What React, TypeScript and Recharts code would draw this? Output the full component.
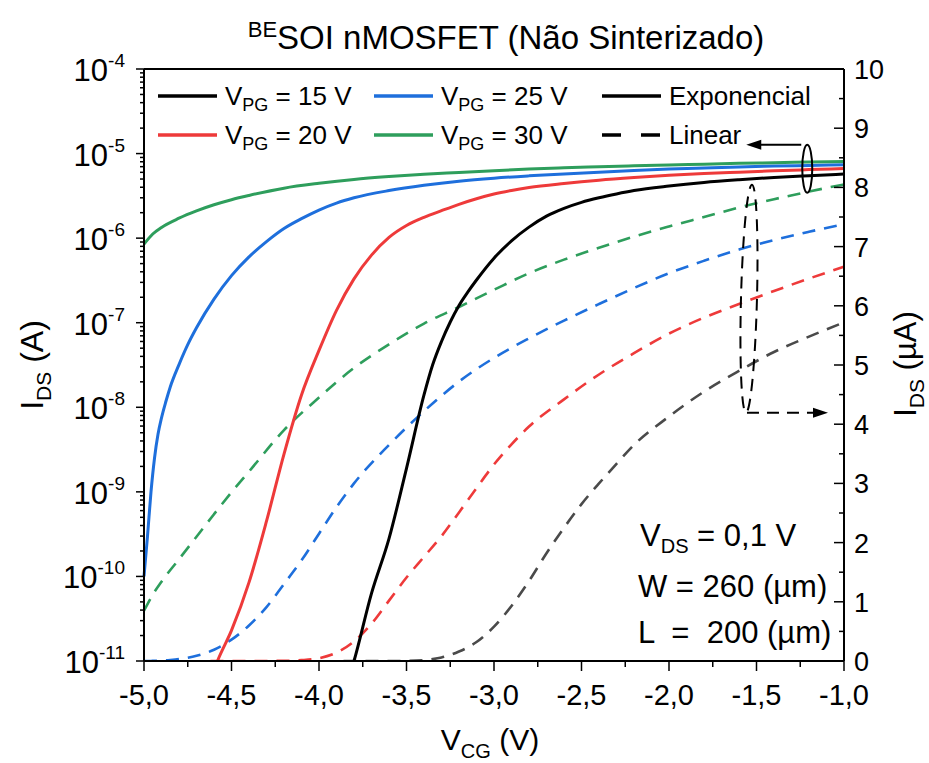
import { ComposedChart, Line, XAxis, YAxis, ReferenceLine, ReferenceDot } from 'recharts'

// I_DS (A) vs V_CG (V) for each back-gate bias V_PG
const VCG_15 = [-3.86, -3.8, -3.7, -3.6, -3.5, -3.4, -3.35, -3.3, -3.25, -3.2, -3.15, -3.1, -3.0, -2.9, -2.8, -2.7, -2.6, -2.5, -2.4, -2.3, -2.2, -2.0, -1.8, -1.6, -1.4, -1.2, -1.0]
const IDS_15 = [4e-12, 1.0e-11, 6.3e-11, 2.8e-10, 1.9e-9, 1.4e-8, 3.2e-8, 6.0e-8, 1.02e-7, 1.6e-7, 2.3e-7, 3.2e-7, 5.8e-7, 9.3e-7, 1.35e-6, 1.82e-6, 2.25e-6, 2.65e-6, 3.0e-6, 3.33e-6, 3.65e-6, 4.13e-6, 4.55e-6, 4.9e-6, 5.22e-6, 5.48e-6, 5.72e-6]

const VCG_20 = [-4.62, -4.58, -4.5, -4.4, -4.3, -4.2, -4.1, -4.0, -3.9, -3.8, -3.7, -3.6, -3.5, -3.4, -3.3, -3.2, -3.1, -3.0, -2.9, -2.8, -2.6, -2.4, -2.2, -2.0, -1.8, -1.6, -1.4, -1.2, -1.0]
const IDS_20 = [6e-12, 1.0e-11, 2.3e-11, 8.5e-11, 4.5e-10, 2.8e-9, 1.4e-8, 4.7e-8, 1.4e-7, 3.3e-7, 6.3e-7, 1.02e-6, 1.41e-6, 1.76e-6, 2.11e-6, 2.51e-6, 2.92e-6, 3.32e-6, 3.66e-6, 3.96e-6, 4.42e-6, 4.84e-6, 5.2e-6, 5.53e-6, 5.8e-6, 6.03e-6, 6.25e-6, 6.46e-6, 6.66e-6]

const VCG_25 = [-5.0, -4.98, -4.96, -4.94, -4.92, -4.9, -4.875, -4.85, -4.8, -4.75, -4.7, -4.6, -4.5, -4.4, -4.3, -4.2, -4.1, -4.0, -3.9, -3.8, -3.6, -3.4, -3.2, -3.0, -2.8, -2.6, -2.4, -2.2, -2.0, -1.8, -1.6, -1.4, -1.2, -1.0]
const IDS_25 = [1.0e-10, 3e-10, 1.0e-9, 2.5e-9, 4.8e-9, 7.5e-9, 1.17e-8, 1.74e-8, 3.2e-8, 5.5e-8, 8.7e-8, 1.9e-7, 3.6e-7, 6.0e-7, 9.1e-7, 1.3e-6, 1.7e-6, 2.15e-6, 2.6e-6, 3.0e-6, 3.65e-6, 4.22e-6, 4.72e-6, 5.12e-6, 5.45e-6, 5.75e-6, 6.03e-6, 6.3e-6, 6.55e-6, 6.76e-6, 6.95e-6, 7.11e-6, 7.25e-6, 7.38e-6]

const VCG_30 = [-5.0, -4.95, -4.9, -4.8, -4.7, -4.6, -4.5, -4.4, -4.2, -4.0, -3.8, -3.6, -3.4, -3.2, -3.0, -2.8, -2.6, -2.4, -2.2, -2.0, -1.8, -1.6, -1.4, -1.2, -1.0]
const IDS_30 = [8.5e-7, 1.12e-6, 1.34e-6, 1.72e-6, 2.1e-6, 2.48e-6, 2.85e-6, 3.2e-6, 3.9e-6, 4.45e-6, 4.95e-6, 5.35e-6, 5.7e-6, 5.98e-6, 6.27e-6, 6.55e-6, 6.78e-6, 6.98e-6, 7.17e-6, 7.34e-6, 7.5e-6, 7.66e-6, 7.8e-6, 7.93e-6, 8.05e-6]

const X_TICKS = [-5, -4.75, -4.5, -4.25, -4, -3.75, -3.5, -3.25, -3, -2.75, -2.5, -2.25, -2, -1.75, -1.5, -1.25, -1]
const LIN_TICKS = [0, 0.5, 1, 1.5, 2, 2.5, 3, 3.5, 4, 4.5, 5, 5.5, 6, 6.5, 7, 7.5, 8, 8.5, 9, 9.5, 10]
const DECADES = [-11, -10, -9, -8, -7, -6, -5, -4]

const LOG_TICKS: number[] = []
DECADES.forEach((e) => {
  LOG_TICKS.push(Math.pow(10, e))
  if (e < -4) for (let m = 2; m <= 9; m++) LOG_TICKS.push(m * Math.pow(10, e))
})

const SERIES = [
  { pg: '15', vcg: VCG_15, ids: IDS_15, color: '#000000', dash: '#4a4a4a' },
  { pg: '20', vcg: VCG_20, ids: IDS_20, color: '#ee3a3a', dash: '#ee3a3a' },
  { pg: '25', vcg: VCG_25, ids: IDS_25, color: '#1e6fdc', dash: '#1e6fdc' },
  { pg: '30', vcg: VCG_30, ids: IDS_30, color: '#2e9e5c', dash: '#2e9e5c' },
]

const FONT = '"Liberation Sans", Arial, sans-serif'
const DASH = '13 9'

function LogTick({ x, y, payload }: any) {
  const lg = Math.log10(payload.value)
  const e = Math.round(lg)
  const major = Math.abs(lg - e) < 1e-6
  return (
    <g>
      <line x1={x - (major ? 8 : 4)} y1={y} x2={x} y2={y} stroke="#000" strokeWidth={1.5} />
      {major && (
        <text x={x - 19} y={y + 12} textAnchor="end" fontSize={31} fill="#000" fontFamily={FONT}>
          10<tspan dy={-14} fontSize={19}>{e}</tspan>
        </text>
      )}
    </g>
  )
}

function LinTick({ x, y, payload }: any) {
  const major = Number.isInteger(payload.value)
  return (
    <g>
      <line x1={x - (major ? 10 : 5)} y1={y} x2={x} y2={y} stroke="#000" strokeWidth={1.5} />
      {major && (
        <text x={x + 10} y={y + 10} textAnchor="start" fontSize={27} fill="#000" fontFamily={FONT}>
          {payload.value}
        </text>
      )}
    </g>
  )
}

function VTick({ x, y, payload }: any) {
  const v = payload.value
  const major = Math.abs(v * 2 - Math.round(v * 2)) < 1e-6
  return (
    <g>
      <line x1={x} y1={y} x2={x} y2={y + (major ? 10 : 6)} stroke="#000" strokeWidth={1.5} />
      {major && (
        <text x={x} y={y + 44} textAnchor="middle" fontSize={29} fill="#000" fontFamily={FONT}>
          {v.toFixed(1).replace('.', ',')}
        </text>
      )}
    </g>
  )
}

// ellipse around the solid curves, arrow toward the log axis
function LogMarker({ cx, cy }: any) {
  return (
    <g>
      <ellipse cx={cx} cy={cy} rx={5} ry={24} fill="none" stroke="#000" strokeWidth={2} />
      <line x1={cx - 6} y1={cy - 24} x2={cx - 50} y2={cy - 24} stroke="#000" strokeWidth={2} />
      <polygon points={`${cx - 61},${cy - 24} ${cx - 46},${cy - 29} ${cx - 46},${cy - 19}`} fill="#000" />
    </g>
  )
}

// dashed ellipse around the dashed curves, arrow toward the linear axis
function LinMarker({ cx, cy }: any) {
  return (
    <g>
      <ellipse cx={cx} cy={cy} rx={8} ry={114} fill="none" stroke="#000" strokeWidth={2}
        strokeDasharray="12 8" transform={`rotate(1.5 ${cx} ${cy})`} />
      <line x1={cx - 2} y1={cy + 114} x2={cx + 66} y2={cy + 114} stroke="#000" strokeWidth={2} strokeDasharray="12 8" />
      <polygon points={`${cx + 79},${cy + 114} ${cx + 64},${cy + 109} ${cx + 64},${cy + 119}`} fill="#000" />
    </g>
  )
}

const LEGEND = [
  { label: 'pg', pg: '15', x: 158, y: 96, color: '#000000', dash: false },
  { label: 'pg', pg: '20', x: 158, y: 135, color: '#ee3a3a', dash: false },
  { label: 'pg', pg: '25', x: 374, y: 96, color: '#1e6fdc', dash: false },
  { label: 'pg', pg: '30', x: 374, y: 135, color: '#2e9e5c', dash: false },
  { label: 'Exponencial', pg: '', x: 602, y: 96, color: '#000000', dash: false },
  { label: 'Linear', pg: '', x: 602, y: 135, color: '#000000', dash: true },
]

export default function App() {
  const rows = SERIES.map((s) => s.vcg.map((v, i) => ({ v, a: s.ids[i], ua: s.ids[i] * 1e6 })))

  return (
    <div style={{ position: 'absolute', left: 0, top: 0, width: 929, height: 763, background: '#fff', fontFamily: FONT }}>
      <div style={{ position: 'absolute', left: 0, top: 0 }}>
        <ComposedChart width={929} height={763} margin={{ top: 69, right: 35, bottom: 52, left: 64 }}>
          <XAxis
            dataKey="v" type="number" domain={[-5, -1]} ticks={X_TICKS} interval={0}
            tick={<VTick />} tickLine={false} tickSize={0} tickMargin={0} height={50}
            axisLine={{ stroke: '#000', strokeWidth: 2 }} allowDuplicatedCategory={false}
          />
          <YAxis
            yAxisId="log" type="number" scale="log" domain={[1e-11, 1e-4]} allowDataOverflow
            ticks={LOG_TICKS} interval={0} tick={<LogTick />} tickLine={false} tickSize={0} tickMargin={0}
            width={80} axisLine={{ stroke: '#000', strokeWidth: 2 }}
          />
          <YAxis
            yAxisId="lin" orientation="right" type="number" domain={[0, 10]} allowDataOverflow
            ticks={LIN_TICKS} interval={0} tick={<LinTick />} tickLine={false} tickSize={0} tickMargin={0}
            width={50} axisLine={{ stroke: '#000', strokeWidth: 2 }}
          />
          <ReferenceLine yAxisId="log" y={1e-4} stroke="#000" strokeWidth={2} ifOverflow="visible" />

          {SERIES.map((s, i) => (
            <Line
              key={`lin-${s.pg}`} data={rows[i]} dataKey="ua" yAxisId="lin" type="monotone"
              stroke={s.dash} strokeWidth={2.6} strokeDasharray={DASH} dot={false} activeDot={false}
              isAnimationActive={false}
            />
          ))}
          {SERIES.map((s, i) => (
            <Line
              key={`log-${s.pg}`} data={rows[i]} dataKey="a" yAxisId="log" type="monotone"
              stroke={s.color} strokeWidth={3} dot={false} activeDot={false}
              isAnimationActive={false}
            />
          ))}

          <ReferenceDot yAxisId="log" x={-1.21} y={6.6e-6} r={1} shape={<LogMarker />} ifOverflow="visible" />
          <ReferenceDot yAxisId="lin" x={-1.543} y={6.12} r={1} shape={<LinMarker />} ifOverflow="visible" />
        </ComposedChart>
      </div>

      <svg width={929} height={763} style={{ position: 'absolute', left: 0, top: 0, pointerEvents: 'none' }} fontFamily={FONT} fill="#000">
        <text x={506} y={49} textAnchor="middle" fontSize={33}>
          <tspan fontSize={22} dy={-12}>BE</tspan>
          <tspan dy={12}>SOI nMOSFET (Não Sinterizado)</tspan>
        </text>

        <text transform="translate(43,365) rotate(-90)" textAnchor="middle" fontSize={32}>
          I<tspan fontSize={21} dy={8}>DS</tspan><tspan dy={-8}> (A)</tspan>
        </text>
        <text transform="translate(916,364) rotate(-90)" textAnchor="middle" fontSize={31}>
          I<tspan fontSize={21} dy={8}>DS</tspan><tspan dy={-8}> (µA)</tspan>
        </text>
        <text x={490} y={750} textAnchor="middle" fontSize={30}>
          V<tspan fontSize={20} dy={8}>CG</tspan><tspan dy={-8}> (V)</tspan>
        </text>

        {LEGEND.map((l) => (
          <g key={l.label + l.pg}>
            <line x1={l.x} y1={l.y} x2={l.x + 59} y2={l.y} stroke={l.color} strokeWidth={3.5}
              strokeDasharray={l.dash ? '19 20' : undefined} />
            <text x={l.x + 67} y={l.y + 9} fontSize={26}>
              {l.pg ? (
                <>V<tspan fontSize={18} dy={6}>PG</tspan><tspan dy={-6}> = {l.pg} V</tspan></>
              ) : l.label}
            </text>
          </g>
        ))}

        <text x={640} y={546} fontSize={31}>
          V<tspan fontSize={20} dy={7}>DS</tspan><tspan dy={-7}> = 0,1 V</tspan>
        </text>
        <text x={638} y={597} fontSize={31}>W = 260 (µm)</text>
        <text x={638} y={643} fontSize={31} style={{ whiteSpace: 'pre' }}>L  =  200 (µm)</text>
      </svg>
    </div>
  )
}
